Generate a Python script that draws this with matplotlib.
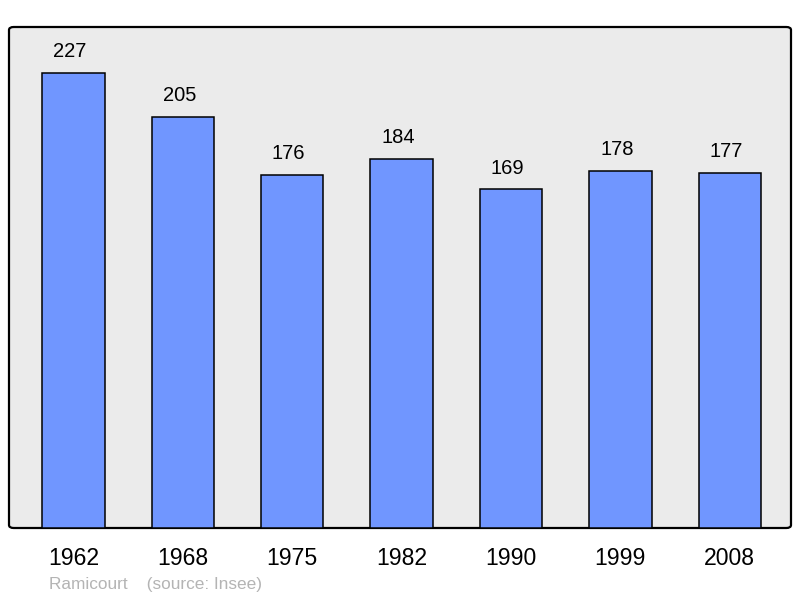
import matplotlib.pyplot as plt
from matplotlib.patches import FancyBboxPatch

years = ["1962", "1968", "1975", "1982", "1990", "1999", "2008"]
population = [227, 205, 176, 184, 169, 178, 177]
commune = "Ramicourt"
source = "(source: Insee)"

plt.rcParams["font.family"] = ["Liberation Sans", "DejaVu Sans"]

fig = plt.figure(figsize=(8, 5.98), dpi=100)
ax = fig.add_axes([9 / 800, 70 / 598, 782 / 800, 501 / 598])
ax.set_facecolor("none")

# rounded frame with grey fill
frame = FancyBboxPatch((0, 0), 1, 1, boxstyle="round,pad=0,rounding_size=0.006",
                       transform=ax.transAxes, facecolor="#ebebeb",
                       edgecolor="black", linewidth=1.6, clip_on=False, zorder=0)
ax.add_patch(frame)

x = list(range(len(years)))
ax.bar(x, population, width=0.57, color="#7096ff", edgecolor="black",
       linewidth=1.1, zorder=2)

for xi, v in zip(x, population):
    ax.annotate(str(v), (xi, v), xytext=(-2.6, 8.5), textcoords="offset points",
                ha="center", va="bottom", fontsize=14.5, color="black")

ax.set_xlim(-0.59, 6.56)
ax.set_ylim(0, 250)
ax.set_xticks(x)
ax.set_xticklabels(years, fontsize=16.6)
ax.tick_params(axis="x", length=0, pad=13.5)
ax.set_yticks([])
for s in ax.spines.values():
    s.set_visible(False)

fig.text(49 / 800, 1 - 584 / 598, commune + "    " + source, fontsize=12.4,
         color="#b4b4b4", va="center", ha="left")

fig.savefig("out.png", dpi=100)
